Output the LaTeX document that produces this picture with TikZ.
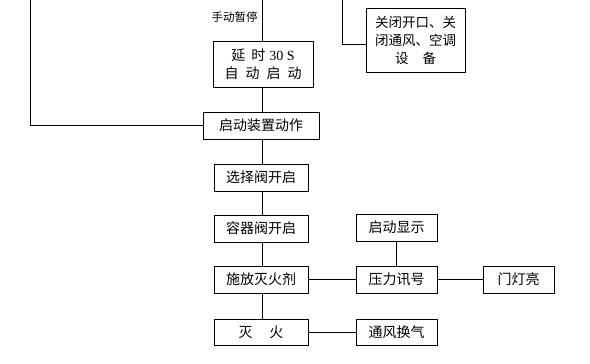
\documentclass[tikz,border=0pt]{standalone}
\usepackage{fontspec}
\setmainfont{Liberation Serif}
\newfontfamily\cjk{Noto Sans CJK SC}

\begin{document}
\begin{tikzpicture}[x=1pt, y=-1pt, line width=0.8pt,
	every node/.style={font=\cjk\fontsize{14}{18}\selectfont},
	box/.style={draw, inner sep=0pt, align=center, minimum height=27pt}]
	\useasboundingbox (0,0) rectangle (590,364);
	% lines coming from above
	\coordinate (topL) at (30,0);
	\coordinate (topM) at (262,0);
	\coordinate (topR) at (342,0);
	% main column
	\node[box, minimum width=100pt, minimum height=46pt] (delay) at (263,64)
		{延\hspace{6pt}时\hspace{4pt}{\rmfamily 30 S}\\自\hspace{7pt}动\hspace{7pt}启\hspace{7pt}动};
	\node[box, minimum width=116pt] (act) at (261,125.5) {启动装置动作};
	\node[box, minimum width=94pt] (sel) at (261,177.5) {选择阀开启};
	\node[box, minimum width=94pt] (cont) at (261,228.5) {容器阀开启};
	\node[box, minimum width=94pt] (rel) at (261,279.5) {施放灭火剂};
	\node[box, minimum width=94pt, minimum height=26pt] (ext) at (261,332) {灭\hspace{17pt}火};
	% right side
	\node[box, minimum width=99pt, minimum height=64pt,
		font=\cjk\fontsize{13.5}{18}\selectfont] (close) at (415.5,40)
		{关闭开口、关\\闭通风、空调\\设\hspace{14pt}备};
	\node[box, minimum width=81pt] (disp) at (396.5,227.5) {启动显示};
	\node[box, minimum width=81pt] (press) at (396.5,279.5) {压力讯号};
	\node[box, minimum width=71pt] (door) at (518.5,279.5) {门灯亮};
	\node[box, minimum width=81pt, minimum height=26pt] (vent) at (396.5,332) {通风换气};
	\node[anchor=east, inner sep=0pt, font=\cjk\fontsize{11.5}{14}\selectfont] (pause) at (258,17) {手动暂停};
	% connectors
	\draw (topM) -- (topM |- delay.north);
	\draw (delay.south -| topM) -- (act.north -| topM);
	\draw (topL) |- (act.west);
	\draw (topR) |- ([yshift=-4pt]close.west);
	\draw (act.south -| topM) -- (sel.north -| topM);
	\draw (sel.south -| topM) -- (cont.north -| topM);
	\draw (cont.south -| topM) -- (rel.north -| topM);
	\draw (rel.south -| topM) -- (ext.north -| topM);
	\draw (rel) -- (press);
	\draw (press) -- (door);
	\draw (disp) -- (press);
	\draw (ext) -- (vent);
\end{tikzpicture}
\end{document}
